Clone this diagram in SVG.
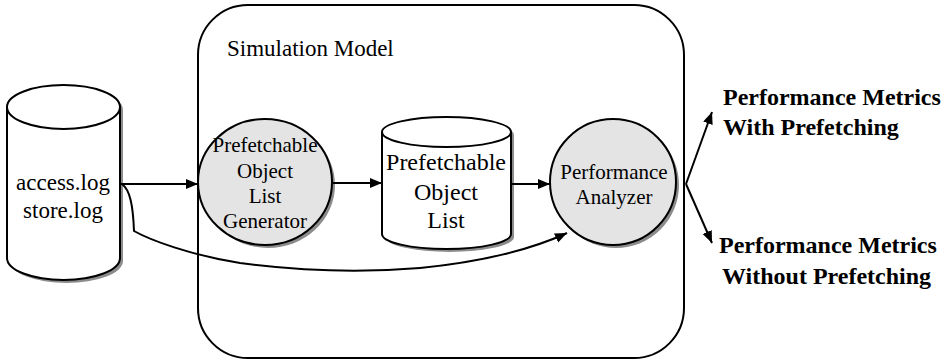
<svg xmlns="http://www.w3.org/2000/svg" width="949" height="362" viewBox="0 0 949 362">
<style>
  .t { font-family: "Liberation Serif", "Times New Roman", serif; fill: #000; text-anchor: middle; }
  .b { font-family: "Liberation Serif", "Times New Roman", serif; font-weight: bold; font-size: 24px; fill: #000; }
  .edge { fill: none; stroke: #000; stroke-width: 2; }
  .sh { fill: #8c8c8c; stroke: none; }
  .shape { stroke: #000; stroke-width: 2; }
</style>
<defs>
  <marker id="arr" markerUnits="userSpaceOnUse" markerWidth="14" markerHeight="12" refX="12" refY="5" orient="auto">
    <path d="M0,0 L12,5 L0,10 Z" fill="#000"/>
  </marker>
</defs>
<rect width="949" height="362" fill="#fff"/>

<g id="simulation-model">
  <rect x="198" y="5" width="486" height="353" rx="50" ry="50" fill="#fff" class="shape"/>
  <text x="227" y="56" class="t" style="text-anchor:start" font-size="23">Simulation Model</text>
</g>

<g id="logs">
  <path class="sh" transform="translate(3,3)" d="M7,107 A56.5,22 0 0 1 120,107 L120,258 A56.5,22 0 0 1 7,258 Z"/>
  <path class="shape" fill="#fff" d="M7,107 A56.5,22 0 0 1 120,107 L120,258 A56.5,22 0 0 1 7,258 Z"/>
  <path class="shape" fill="none" d="M7,107 A56.5,22 0 0 0 120,107"/>
  <text x="63" y="190" class="t" font-size="23">access.log</text>
  <text x="63" y="218" class="t" font-size="23">store.log</text>
</g>

<g id="generator">
  <ellipse class="sh" cx="268" cy="185" rx="67" ry="63"/>
  <ellipse class="shape" cx="265" cy="182" rx="67" ry="63" fill="#e4e4e4"/>
  <text class="t" font-size="21"><tspan x="265" y="152">Prefetchable</tspan><tspan x="265" y="178">Object</tspan><tspan x="265" y="203">List</tspan><tspan x="265" y="228">Generator</tspan></text>
</g>

<g id="object-list">
  <path class="sh" transform="translate(3,3)" d="M382,132 A64.5,15 0 0 1 511,132 L511,234 A64.5,15 0 0 1 382,234 Z"/>
  <path class="shape" fill="#fff" d="M382,132 A64.5,15 0 0 1 511,132 L511,234 A64.5,15 0 0 1 382,234 Z"/>
  <path class="shape" fill="none" d="M382,132 A64.5,15 0 0 0 511,132"/>
  <text class="t" font-size="24"><tspan x="446" y="170">Prefetchable</tspan><tspan x="446" y="200">Object</tspan><tspan x="446" y="228">List</tspan></text>
</g>

<g id="analyzer">
  <circle class="sh" cx="616" cy="185" r="63"/>
  <circle class="shape" cx="613" cy="182" r="63" fill="#e4e4e4"/>
  <text class="t" font-size="21"><tspan x="614" y="179">Performance</tspan><tspan x="614" y="204">Analyzer</tspan></text>
</g>

<g id="metrics-with">
  <text x="723" y="105" class="b">Performance Metrics</text>
  <text x="723" y="135" class="b">With Prefetching</text>
</g>

<g id="metrics-without">
  <text x="719" y="253" class="b">Performance Metrics</text>
  <text x="722" y="284" class="b">Without Prefetching</text>
</g>

<g id="connectors">
  <line class="edge" x1="121" y1="184" x2="198" y2="184" marker-end="url(#arr)"/>
  <line class="edge" x1="333" y1="183" x2="382" y2="183" marker-end="url(#arr)"/>
  <line class="edge" x1="511" y1="184" x2="550" y2="184" marker-end="url(#arr)"/>
  <path class="edge" d="M122,184 C130,190 133,205 134,231 C150,240 190,255 240,263 C300,271 360,273 420,268 C480,262 530,250 567,233" marker-end="url(#arr)"/>
  <line class="edge" x1="686" y1="184" x2="712" y2="112" marker-end="url(#arr)"/>
  <line class="edge" x1="686" y1="184" x2="712" y2="243" marker-end="url(#arr)"/>
</g>
</svg>
